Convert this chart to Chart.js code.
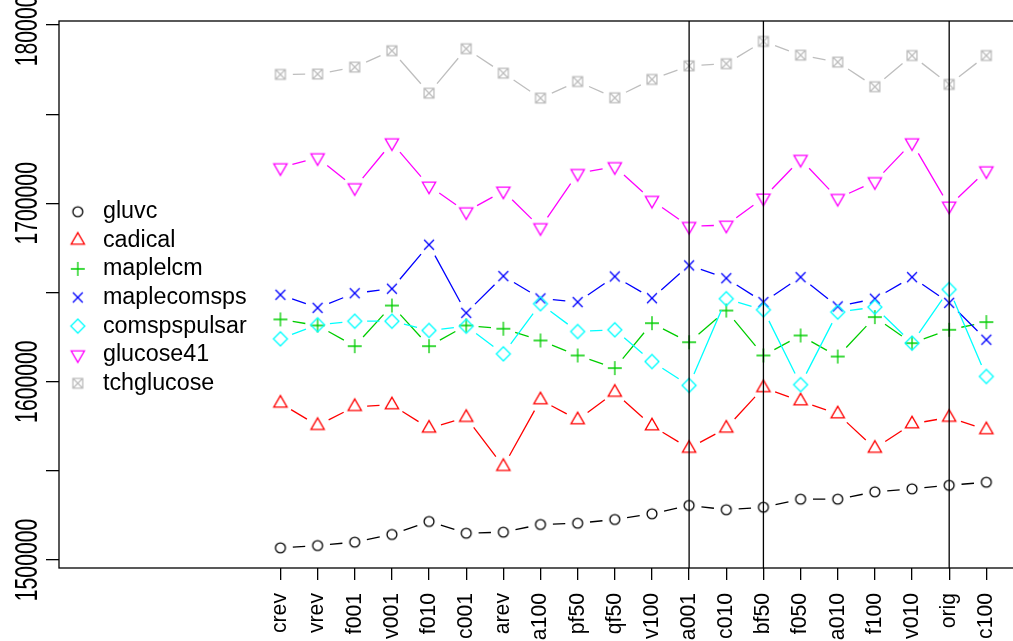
<!DOCTYPE html>
<html>
<head>
<meta charset="utf-8">
<script src="https://cdn.jsdelivr.net/npm/chart.js@4.4.1/dist/chart.umd.min.js"></script>
<style>
  html, body { margin: 0; padding: 0; background: #ffffff; overflow: hidden; }
  #wrap { width: 1032px; height: 641px; }
</style>
</head>
<body>
<div id="wrap"><canvas id="runs" width="1032" height="641"></canvas></div>
<script>
// Benchmark runs along the x axis
const runs = ['crev','vrev','f001','v001','f010','c001','arev','a100','pf50','qf50',
              'v100','a001','c010','bf50','f050','a010','f100','v010','orig','c100'];

// Scores per solver, one value per run
const gluvc        = [1506800,1508100,1510000,1514300,1521600,1515000,1515600,1519900,1520600,1522700,
                      1525900,1530600,1528200,1529600,1534100,1534100,1538200,1539900,1541900,1543600];
const cadical      = [1587900,1575400,1586000,1587000,1573900,1579900,1552400,1589800,1578600,1594000,
                      1575200,1562600,1573900,1596600,1589200,1581900,1562600,1576300,1580000,1573000];
const maplelcm     = [1634900,1631500,1619900,1642700,1619900,1631500,1629700,1623100,1614700,1607600,
                      1632800,1622100,1639900,1614700,1625900,1614100,1636200,1621600,1629100,1633400];
const maplecomsps  = [1648700,1641400,1649600,1652100,1676800,1638600,1659200,1646700,1644600,1659000,
                      1646800,1665200,1658000,1644600,1658600,1642200,1646500,1658600,1644200,1623500];
const comspspulsar = [1624000,1631900,1633900,1633900,1628700,1631100,1615600,1643700,1628100,1629100,
                      1611300,1597900,1646500,1640300,1598300,1639000,1641800,1621600,1651700,1602900];
const glucose41    = [1720000,1725600,1708800,1734000,1709700,1695300,1706900,1686400,1716800,1720600,
                      1701700,1687100,1687800,1703000,1724700,1702800,1712200,1734000,1698500,1718300];
const tchglucose   = [1772300,1772500,1776400,1785600,1761800,1786700,1773000,1759000,1768300,1759200,
                      1769500,1777100,1778300,1790800,1783100,1779200,1765400,1782900,1766700,1782900];

// Runs marked with a vertical rule
const markedRuns = ['a001','bf50','orig'];

// Y axis tick positions and the subset that carries labels
const yTickValues  = [1500000,1550000,1600000,1650000,1700000,1750000,1800000];
const yLabelValues = [1500000,1600000,1700000,1800000];

const FONT = '"Liberation Sans", Arial, Helvetica, sans-serif';
const LEGEND_SIZE = 23.3;
const AXIS_SIZE = 21.2;
const Y_STRETCH = 1.5;      // y labels are drawn wide across the axis
const MARK_R = 4.94;        // base symbol radius
const GAP = 12.4;           // gap left around each symbol by the connecting lines

// Symbol glyphs (circle, triangles, plus, times, diamond, boxed times)
function makeMarker(kind, color) {
  const s = 24, c = s / 2, R = MARK_R;
  const cv = document.createElement('canvas');
  cv.width = s; cv.height = s;
  const g = cv.getContext('2d');
  g.strokeStyle = color;
  g.lineWidth = 1.3;
  g.beginPath();
  if (kind === 'circle') {
    g.arc(c, c, R, 0, Math.PI * 2);
  } else if (kind === 'triUp' || kind === 'triDown') {
    const r = 1.555 * R, xc = 1.347 * R, yc = 0.778 * R;
    const d = kind === 'triUp' ? 1 : -1;
    g.moveTo(c, c - d * r);
    g.lineTo(c + xc, c + d * yc);
    g.lineTo(c - xc, c + d * yc);
    g.closePath();
  } else if (kind === 'plus') {
    const a = Math.SQRT2 * R;
    g.moveTo(c - a, c); g.lineTo(c + a, c);
    g.moveTo(c, c - a); g.lineTo(c, c + a);
  } else if (kind === 'times') {
    g.moveTo(c - R, c - R); g.lineTo(c + R, c + R);
    g.moveTo(c - R, c + R); g.lineTo(c + R, c - R);
  } else if (kind === 'diamond') {
    const a = Math.SQRT2 * R;
    g.moveTo(c - a, c); g.lineTo(c, c - a); g.lineTo(c + a, c); g.lineTo(c, c + a);
    g.closePath();
  } else if (kind === 'boxTimes') {
    g.rect(c - R, c - R, 2 * R, 2 * R);
    g.moveTo(c - R, c - R); g.lineTo(c + R, c + R);
    g.moveTo(c - R, c + R); g.lineTo(c + R, c - R);
  }
  g.stroke();
  return cv;
}

const seriesDefs = [
  { label: 'gluvc',        values: gluvc,        color: '#000000', mark: 'circle'   },
  { label: 'cadical',      values: cadical,      color: '#FF0000', mark: 'triUp'    },
  { label: 'maplelcm',     values: maplelcm,     color: '#00CD00', mark: 'plus'     },
  { label: 'maplecomsps',  values: maplecomsps,  color: '#0000FF', mark: 'times'    },
  { label: 'comspspulsar', values: comspspulsar, color: '#00FFFF', mark: 'diamond'  },
  { label: 'glucose41',    values: glucose41,    color: '#FF00FF', mark: 'triDown'  },
  { label: 'tchglucose',   values: tchglucose,   color: '#BEBEBE', mark: 'boxTimes' }
];

const datasets = seriesDefs.map((s, k) => ({
  label: s.label,
  data: s.values.map((v, i) => ({ x: i, y: v })),
  borderColor: s.color,
  backgroundColor: s.color,
  pointStyle: makeMarker(s.mark, s.color),
  pointRadius: 5,
  pointHoverRadius: 5,
  showLine: false,
  order: seriesDefs.length - k   // later series are painted on top
}));

// Lines between consecutive symbols, stopping short of each symbol
const gappedLines = {
  id: 'gappedLines',
  beforeDatasetDraw(chart, args) {
    const meta = args.meta;
    const color = chart.data.datasets[args.index].borderColor;
    const ctx = chart.ctx;
    ctx.save();
    ctx.strokeStyle = color;
    ctx.lineWidth = 1.3;
    ctx.beginPath();
    for (let i = 0; i < meta.data.length - 1; i++) {
      const p = meta.data[i], q = meta.data[i + 1];
      const dx = q.x - p.x, dy = q.y - p.y;
      const d = Math.hypot(dx, dy);
      if (d <= 2 * GAP) continue;
      const f = GAP / d;
      ctx.moveTo(p.x + dx * f, p.y + dy * f);
      ctx.lineTo(q.x - dx * f, q.y - dy * f);
    }
    ctx.stroke();
    ctx.restore();
  }
};

function drawRotated(ctx, text, x, y, align, stretch) {
  ctx.save();
  ctx.translate(x, y);
  ctx.scale(stretch, 1);
  ctx.rotate(-Math.PI / 2);
  ctx.textAlign = align;
  ctx.fillText(text, 0, 0);
  ctx.restore();
}

// Plot frame, vertical rules and rotated axis labels
const frameAndRules = {
  id: 'frameAndRules',
  beforeDatasetsDraw(chart) {
    const { ctx, chartArea: a } = chart;
    ctx.save();
    ctx.strokeStyle = '#000000';
    ctx.lineWidth = 1.3;
    ctx.strokeRect(a.left, a.top, a.right - a.left, a.bottom - a.top);
    ctx.restore();
  },
  afterDatasetsDraw(chart) {
    const { ctx, chartArea: a } = chart;
    const xs = chart.scales.x;
    ctx.save();
    ctx.strokeStyle = '#000000';
    ctx.lineWidth = 1.3;
    ctx.beginPath();
    markedRuns.forEach(r => {
      const px = xs.getPixelForValue(runs.indexOf(r));
      ctx.moveTo(px, a.top);
      ctx.lineTo(px, a.bottom);
    });
    ctx.stroke();
    ctx.restore();
  },
  afterDraw(chart) {
    const { ctx, chartArea: a } = chart;
    const ys = chart.scales.y, xs = chart.scales.x;
    ctx.save();
    ctx.fillStyle = '#000000';
    ctx.font = AXIS_SIZE + 'px ' + FONT;
    // y labels: baseline sits just left of the tick marks
    ctx.textBaseline = 'alphabetic';
    yLabelValues.forEach(v => {
      drawRotated(ctx, String(v), 37, ys.getPixelForValue(v), 'center', Y_STRETCH);
    });
    // x labels: read upwards, one text line below the axis
    ctx.textBaseline = 'middle';
    runs.forEach((r, i) => {
      drawRotated(ctx, r, xs.getPixelForValue(i), a.bottom + 25, 'right', 1);
    });
    ctx.restore();
  }
};

new Chart(document.getElementById('runs'), {
  type: 'scatter',
  data: { datasets },
  plugins: [gappedLines, frameAndRules],
  options: {
    responsive: false,
    animation: false,
    events: [],
    layout: { padding: { left: 0, top: 21, right: 10, bottom: 0 } },
    scales: {
      x: {
        type: 'linear',
        min: -5.96,
        max: 19.96,
        afterBuildTicks(scale) { scale.ticks = runs.map((_, i) => ({ value: i })); },
        afterFit(scale) { scale.height = 73; },
        border: { display: false },
        grid: { drawOnChartArea: false, drawTicks: true, tickLength: 12, color: '#000000', lineWidth: 1.3 },
        ticks: { display: false }
      },
      y: {
        type: 'linear',
        min: 1495500,
        max: 1802250,
        afterBuildTicks(scale) { scale.ticks = yTickValues.map(v => ({ value: v })); },
        afterFit(scale) { scale.width = 59; },
        border: { display: false },
        grid: { drawOnChartArea: false, drawTicks: true, tickLength: 13, color: '#000000', lineWidth: 1.3 },
        ticks: { display: false }
      }
    },
    plugins: {
      tooltip: { enabled: false },
      legend: {
        position: 'chartArea',
        title: { display: true, text: '', font: { size: 10 }, padding: { top: 36, bottom: 0 } },
        labels: {
          usePointStyle: true,
          pointStyleWidth: 27,
          padding: 5.3,
          color: '#000000',
          font: { family: FONT, size: LEGEND_SIZE },
          sort: (a, b) => a.datasetIndex - b.datasetIndex
        }
      }
    }
  }
});
</script>
</body>
</html>
